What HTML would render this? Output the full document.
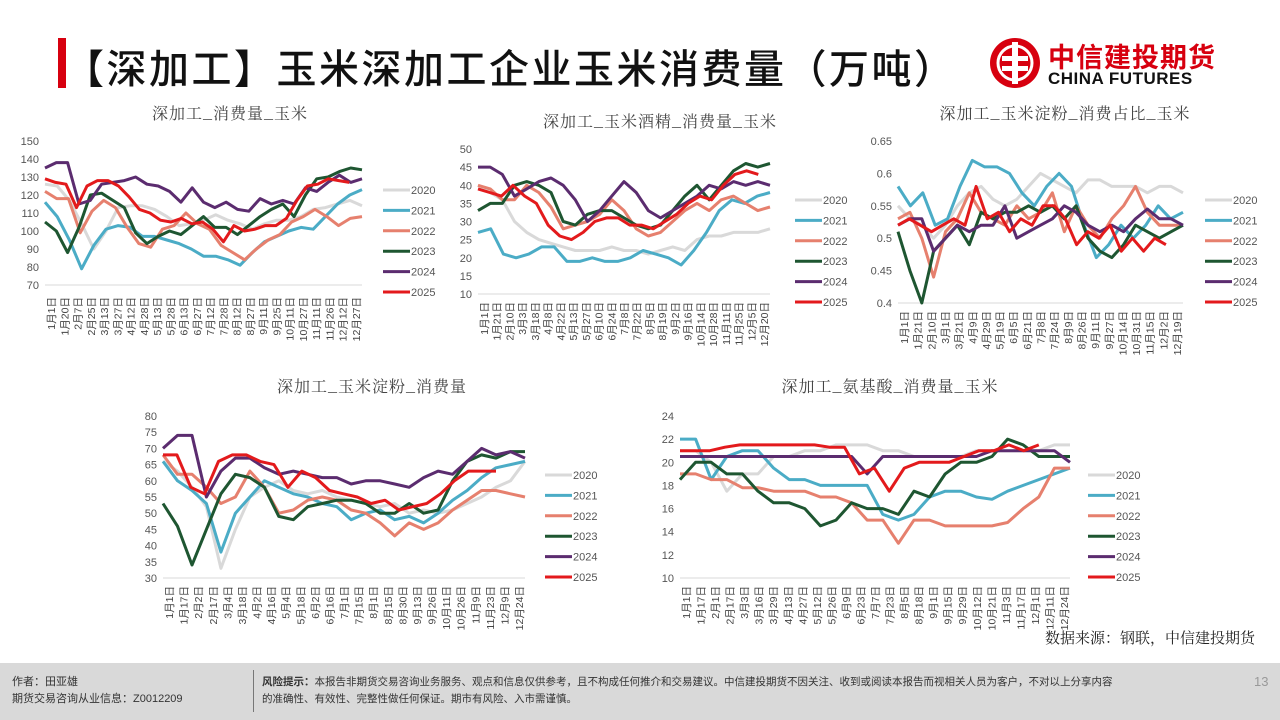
<!DOCTYPE html>
<html><head><meta charset="utf-8">
<style>
body{margin:0;width:1280px;height:720px;background:#fff;overflow:hidden;position:relative;font-family:"Liberation Sans","Noto Sans CJK SC",sans-serif}
.t{position:absolute;white-space:nowrap}
</style></head><body>
<div class="t" style="left:58px;top:38px;width:8px;height:50px;background:#d7000f"></div>
<div class="t" style="left:64px;top:37px;font-size:40px;font-weight:500;color:#111;letter-spacing:2.5px">【深加工】玉米深加工企业玉米消费量（万吨）</div>
<svg class="t" style="left:988px;top:36px" width="54" height="54" viewBox="0 0 54 54">
<circle cx="27" cy="27" r="25" fill="#d7000f"/>
<circle cx="27" cy="27" r="17" fill="none" stroke="#fff" stroke-width="3"/>
<rect x="24" y="6" width="6" height="42" fill="#fff"/><rect x="14" y="20" width="26" height="5" fill="#fff"/><rect x="14" y="30" width="26" height="5" fill="#fff"/>
</svg>
<div class="t" style="left:1048px;top:36px;font-size:27px;font-weight:700;color:#d7000f;letter-spacing:1px">中信建投期货</div>
<div class="t" style="left:1048px;top:69px;font-size:17px;font-weight:700;color:#111;letter-spacing:0.5px">CHINA FUTURES</div>
<svg id="s" class="t" style="left:0;top:0" width="1280" height="720"></svg>
<div class="t" style="left:1045px;top:627px;font-size:15px;color:#222;font-family:'Noto Serif CJK SC',serif">数据来源：钢联，中信建投期货</div>
<div class="t" style="left:0;top:663px;width:1280px;height:57px;background:#d9d9d9"></div>
<div class="t" style="left:12px;top:674px;font-size:11px;color:#333;line-height:17px">作者：田亚雄<br>期货交易咨询从业信息：Z0012209</div>
<div class="t" style="left:253px;top:670px;width:1px;height:42px;background:#777"></div>
<div class="t" style="left:262px;top:674px;font-size:10.5px;color:#333;line-height:17px"><b>风险提示：</b>本报告非期货交易咨询业务服务、观点和信息仅供参考，且不构成任何推介和交易建议。中信建投期货不因关注、收到或阅读本报告而视相关人员为客户，不对以上分享内容<br>的准确性、有效性、完整性做任何保证。期市有风险、入市需谨慎。</div>
<div class="t" style="left:1254px;top:674px;font-size:13px;color:#999">13</div>
<script>
const C=['#d9d9d9','#4bacc6','#e6806e','#1e5631','#5b2c6f','#e31a1c'];
const Y=['2020','2021','2022','2023','2024','2025'];
let h='';
function chart(o){
 const {x0,x1,yt,yb,lo,hi,step,dec,title,tx,ty,labels,ly,leg,lx,data,end}=o;
 h+=`<text x="${tx}" y="${ty}" font-size="16" text-anchor="middle" fill="#444" font-family="Noto Serif CJK SC,serif" letter-spacing="1">${title}</text>`;
 const sy=v=>yb-(v-lo)/(hi-lo)*(yb-yt);
 for(let v=lo;v<=hi+1e-9;v+=step){h+=`<text x="${x0-6}" y="${sy(v)+4}" font-size="11" text-anchor="end" fill="#555">${dec?+v.toFixed(2):Math.round(v)}</text>`;}
 h+=`<line x1="${x0}" x2="${x1}" y1="${yb}" y2="${yb}" stroke="#d9d9d9"/>`;
 const n=labels.length;
 labels.forEach((l,i)=>{const x=x0+6+(x1-x0-12)*i/(n-1);h+=`<text transform="translate(${x+4},${ly}) rotate(-90)" font-size="10.5" text-anchor="end" fill="#444">${l}</text>`;});
 data.forEach((d,k)=>{const e=k==5?end:1;const pts=d.map((v,i)=>`${(x0+(x1-x0)*e*i/(d.length-1)).toFixed(1)},${sy(v).toFixed(1)}`).join(' ');
  h+=`<polyline points="${pts}" fill="none" stroke="${C[k]}" stroke-width="3" stroke-linejoin="round"/>`;});
 Y.forEach((y,k)=>{const yy=leg+k*20.4;h+=`<line x1="${lx}" x2="${lx+27}" y1="${yy}" y2="${yy}" stroke="${C[k]}" stroke-width="3"/><text x="${lx+28}" y="${yy+4}" font-size="11" fill="#555">${y}</text>`;});
}
chart({x0:45,x1:362,yt:141,yb:285,lo:70,hi:150,step:10,title:'深加工_消费量_玉米',tx:230,ty:119,ly:297,leg:190,lx:383,end:0.96,
labels:['1月1日','1月20日','2月7日','2月25日','3月13日','3月27日','4月12日','4月28日','5月13日','5月28日','6月13日','6月27日','7月12日','7月28日','8月12日','8月27日','9月11日','9月25日','10月11日','10月27日','11月11日','11月26日','12月12日','12月27日'],
data:[[126,125,117,104,90,100,113,114,114,112,108,103,104,106,109,106,104,101,104,106,106,108,112,113,115,117,114],
[116,108,95,79,92,101,103,102,97,97,95,93,90,86,86,84,81,88,94,97,100,102,101,108,115,120,123],
[122,118,118,99,111,117,113,102,93,91,101,103,110,104,101,92,88,84,90,95,98,105,108,112,108,103,107,108],
[105,100,88,102,120,121,117,113,99,93,97,100,98,103,108,102,102,98,103,108,112,115,108,120,129,130,133,135,134],
[135,138,138,115,117,126,127,128,130,126,125,122,116,124,116,113,116,112,111,118,115,117,115,124,122,127,131,127,129],
[129,127,126,113,125,128,128,125,119,112,110,106,105,107,104,105,101,94,103,100,101,103,103,107,117,125,126,129,128,127]]});
chart({x0:478,x1:770,yt:149,yb:294,lo:10,hi:50,step:5,title:'深加工_玉米酒精_消费量_玉米',tx:660,ty:127,ly:302,leg:200,lx:795,end:0.96,
labels:['1月1日','1月21日','2月10日','3月3日','3月18日','4月8日','4月22日','5月13日','5月27日','6月10日','6月24日','7月8日','7月22日','8月5日','8月19日','9月2日','9月16日','10月14日','10月28日','11月11日','11月25日','12月5日','12月20日'],
data:[[40,38,36,30,27,25,24,23,22,22,22,23,22,22,21,22,23,22,25,26,26,27,27,27,28],
[27,28,21,20,21,23,23,19,19,20,19,19,20,22,21,20,18,22,27,33,36,35,37,38],
[40,39,36,36,40,38,34,28,29,30,32,36,33,28,26,27,30,33,35,33,36,37,35,33,34],
[33,35,35,40,41,40,38,30,29,32,33,33,31,29,28,29,33,37,40,36,40,44,46,45,46],
[45,45,43,37,39,41,42,40,36,30,33,37,41,38,33,31,33,35,37,40,39,41,40,41,40],
[39,38,37,40,37,35,29,26,25,27,30,31,31,29,29,28,30,32,35,37,36,40,43,44,43]]});
chart({x0:898,x1:1183,yt:141,yb:303,lo:0.4,hi:0.65,step:0.05,dec:1,title:'深加工_玉米淀粉_消费占比_玉米',tx:1065,ty:119,ly:311,leg:200,lx:1205,end:0.94,
labels:['1月1日','1月21日','2月10日','3月1日','3月21日','4月9日','4月29日','5月19日','6月5日','6月21日','7月8日','7月24日','8月9日','8月26日','9月11日','9月27日','10月14日','10月31日','11月15日','12月2日','12月19日'],
data:[[0.55,0.53,0.52,0.50,0.52,0.55,0.57,0.58,0.56,0.55,0.56,0.58,0.60,0.59,0.58,0.57,0.59,0.59,0.58,0.58,0.58,0.57,0.58,0.58,0.57],
[0.58,0.55,0.57,0.52,0.53,0.58,0.62,0.61,0.61,0.60,0.57,0.55,0.58,0.60,0.58,0.52,0.47,0.49,0.52,0.50,0.52,0.55,0.53,0.54],
[0.53,0.54,0.50,0.44,0.51,0.53,0.57,0.54,0.53,0.52,0.55,0.53,0.54,0.57,0.51,0.55,0.52,0.50,0.53,0.55,0.58,0.54,0.52,0.52,0.52],
[0.51,0.45,0.40,0.48,0.50,0.52,0.49,0.54,0.53,0.54,0.54,0.55,0.54,0.55,0.53,0.55,0.50,0.48,0.47,0.49,0.52,0.51,0.50,0.51,0.52],
[0.52,0.53,0.53,0.48,0.50,0.52,0.51,0.52,0.52,0.55,0.50,0.51,0.52,0.53,0.55,0.54,0.52,0.51,0.52,0.51,0.53,0.545,0.53,0.53,0.52],
[0.52,0.53,0.52,0.51,0.52,0.53,0.52,0.58,0.53,0.54,0.51,0.53,0.52,0.55,0.55,0.53,0.49,0.51,0.50,0.52,0.48,0.50,0.48,0.50,0.49]]});
chart({x0:163,x1:525,yt:416,yb:578,lo:30,hi:80,step:5,title:'深加工_玉米淀粉_消费量',tx:372,ty:392,ly:586,leg:475,lx:545,end:0.92,
labels:['1月1日','1月17日','2月2日','2月17日','3月4日','3月18日','4月2日','4月16日','5月4日','5月18日','6月2日','6月16日','7月1日','7月15日','8月1日','8月15日','8月30日','9月13日','9月26日','10月11日','10月26日','11月9日','11月23日','12月9日','12月24日'],
data:[[66,63,58,52,33,45,55,58,60,57,56,57,55,54,53,52,53,50,51,50,51,53,55,58,60,66],
[66,60,57,53,38,50,55,60,58,56,55,53,52,48,50,51,48,49,47,50,54,57,61,64,65,66],
[68,62,62,58,53,55,63,58,50,51,54,55,54,51,50,47,43,47,45,47,51,54,57,57,56,55],
[53,46,34,45,56,62,61,58,49,48,52,53,54,54,53,50,50,53,50,51,60,66,68,67,69,69],
[70,74,74,55,63,67,67,64,62,63,62,61,61,59,60,60,59,58,61,63,62,66,70,68,69,67],
[68,68,58,56,66,68,68,66,65,58,63,61,57,56,55,53,54,51,52,53,56,60,63,63,63]]});
chart({x0:680,x1:1070,yt:416,yb:578,lo:10,hi:24,step:2,title:'深加工_氨基酸_消费量_玉米',tx:890,ty:392,ly:586,leg:475,lx:1088,end:0.92,
labels:['1月1日','1月17日','2月1日','2月17日','3月3日','3月16日','3月29日','4月13日','4月27日','5月12日','5月26日','6月9日','6月23日','7月7日','7月23日','8月5日','8月18日','9月1日','9月15日','9月29日','10月12日','10月21日','11月3日','11月17日','12月1日','12月11日','12月24日'],
data:[[21,21,20,17.5,19,19,20.5,20.5,21,21,21.5,21.5,21.5,21,21,20.5,20.5,20.5,20.5,21,21,21,21,21,21.5,21.5],
[22,22,18.5,20.5,21,21,19.5,18.5,18.5,18,18,18,18,15.5,15,15.5,17,17.5,17.5,17,16.8,17.5,18,18.5,19,19.5],
[19,19,18.5,18.5,17.8,17.8,17.5,17.5,17.5,17,17,16.5,15,15,13,15,15,14.5,14.5,14.5,14.5,14.8,16,17,19.5,19.5],
[18.5,20,20,19,19,17.5,16.5,16.5,16,14.5,15,16.5,16,16,15.5,17.5,17,19,20,20,20.5,22,21.5,20.5,20.5,20.5],
[20.5,20.5,20.5,20.5,20.5,20.5,20.5,20.5,20.5,20.5,20.5,20.5,19,20.5,20.5,20.5,20.5,20.5,20.5,20.5,21,21,21,21,21,20],
[21,21,21,21.3,21.5,21.5,21.5,21.5,21.5,21.5,21.3,21.3,19,19.5,17.5,19.5,20,20,20,20.5,21,21,21.5,21,21.5]]});
document.getElementById('s').innerHTML=h;
</script>
</body></html>
